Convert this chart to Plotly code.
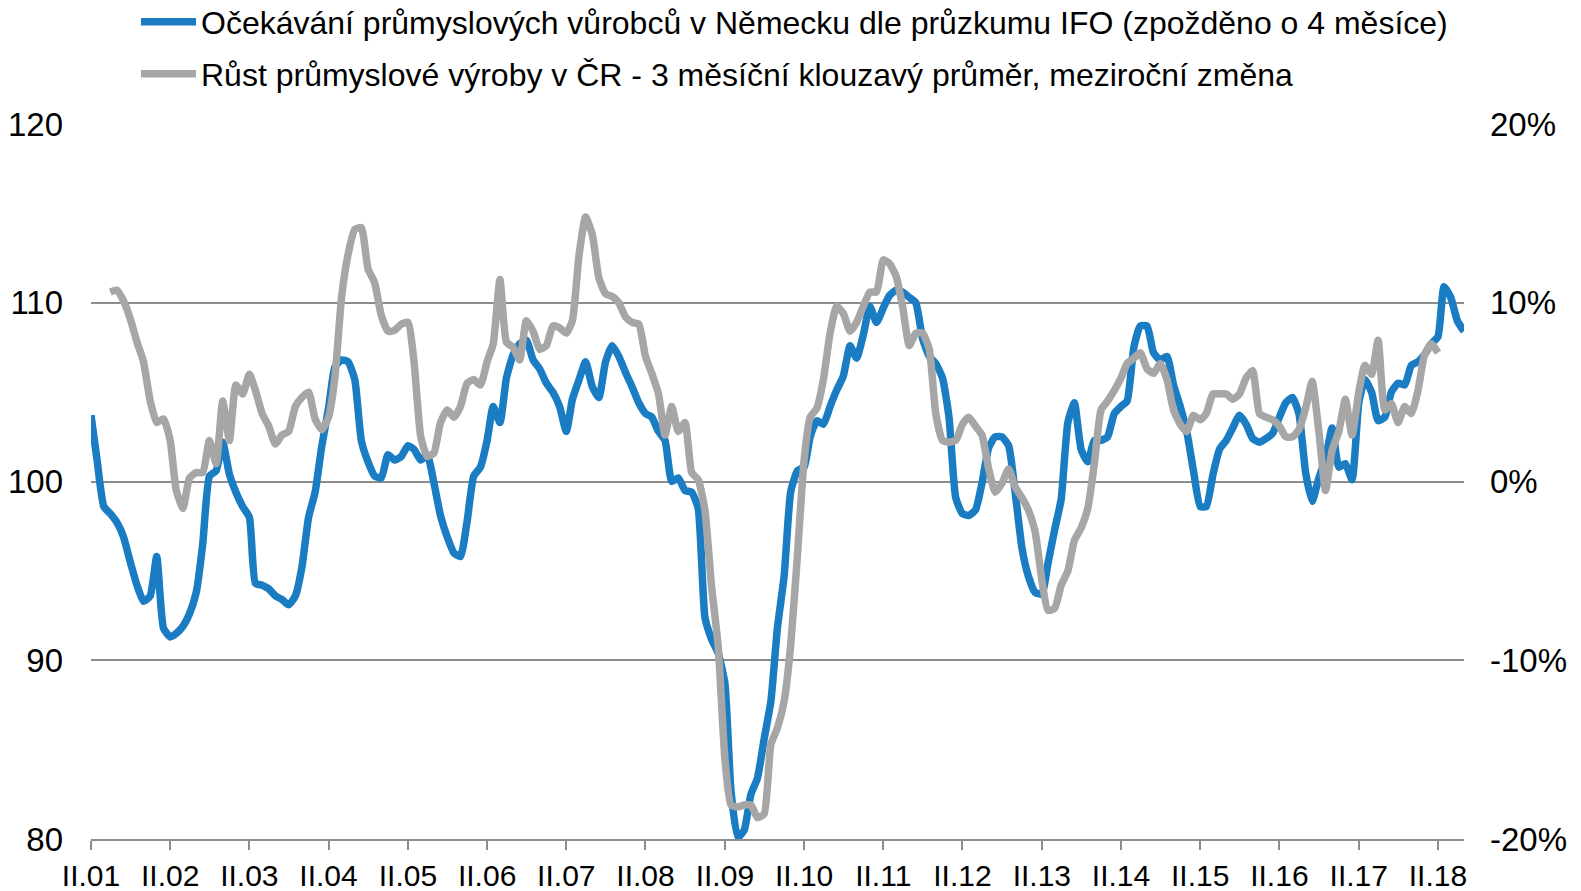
import pandas as pd
import plotly.graph_objects as go

# ---------------- data ----------------
ifo_start = "2001-02-01"
ifo_values = [
    103.7, 101.2, 98.6, 98.2, 97.7, 96.9, 95.5, 94.2, 93.3, 93.6,
    95.8, 91.8, 91.3, 91.5, 91.9, 92.6, 93.8, 96.5, 100.3, 100.6,
    102.2, 100.4, 99.4, 98.6, 98.0, 94.3, 94.2, 94.0, 93.6, 93.4,
    93.1, 93.6, 95.2, 98.0, 99.4, 102.0, 104.1, 106.4, 106.8, 106.7,
    105.7, 102.3, 101.1, 100.3, 100.2, 101.5, 101.2, 101.4, 102.0, 101.8,
    101.2, 101.5, 99.9, 98.1, 96.9, 96.0, 95.8, 97.8, 100.3, 100.8,
    102.3, 104.2, 103.3, 105.8, 107.1, 107.7, 107.9, 106.8, 106.3, 105.5,
    105.0, 104.2, 102.8, 104.6, 105.7, 106.7, 105.3, 104.7, 106.7, 107.6,
    107.0, 106.1, 105.3, 104.4, 103.8, 103.6, 102.8, 102.3, 100.0, 100.2,
    99.5, 99.4, 98.5, 92.4, 91.2, 90.4, 88.7, 82.7, 80.1, 80.5,
    82.5, 83.4, 85.6, 87.7, 91.8, 94.7, 99.4, 100.6, 100.8, 102.5,
    103.4, 103.2, 104.2, 105.1, 105.9, 107.6, 106.9, 108.2, 109.8, 108.9,
    109.7, 110.4, 110.7, 110.6, 110.3, 110.0, 108.0, 107.0, 106.6, 105.8,
    103.6, 99.1, 98.2, 98.1, 98.4, 99.9, 101.9, 102.5, 102.5, 102.0,
    99.4, 96.3, 94.7, 93.8, 93.7, 95.4, 97.3, 99.0, 103.3, 104.4,
    101.8, 101.1, 102.3, 102.3, 102.5, 103.8, 104.2, 104.5, 107.5, 108.7,
    108.7, 107.2, 106.8, 107.0, 105.4, 104.2, 102.8, 100.6, 98.6, 98.6,
    100.4, 101.8, 102.3, 103.0, 103.7, 103.2, 102.4, 102.2, 102.4, 102.7,
    103.6, 104.4, 104.7, 103.8, 100.5, 98.9, 100.2, 101.3, 103.0, 100.8,
    101.0, 100.1, 104.4, 105.7, 105.0, 103.4, 103.6, 105.0, 105.5, 105.4,
    106.5, 106.7, 107.1, 107.7, 108.1, 110.9, 110.3, 109.0, 108.4,
]

cz_start = "2001-05-01"
cz_growth_pct = [
    10.6, 10.7, 10.1, 9.1, 7.8, 6.7, 4.5, 3.3, 3.5, 2.3,
    -0.5, -1.5, 0.2, 0.5, 0.5, 2.3, 1.0, 4.5, 2.3, 5.4,
    4.9, 6.0, 5.1, 3.8, 3.1, 2.1, 2.6, 2.8, 4.2, 4.7,
    5.0, 3.5, 2.9, 3.6, 5.8, 10.3, 12.7, 14.1, 14.2, 11.9,
    11.1, 9.3, 8.4, 8.45, 8.8, 8.9, 6.7, 2.5, 1.4, 1.6,
    3.3, 4.0, 3.6, 4.2, 5.5, 5.7, 5.4, 6.7, 7.7, 11.3,
    7.8, 7.5, 6.8, 9.0, 8.4, 7.4, 7.6, 8.7, 8.6, 8.3,
    9.0, 12.7, 14.8, 13.8, 11.4, 10.5, 10.35, 10.0, 9.2, 8.9,
    8.8, 7.0, 6.05, 4.9, 2.6, 4.2, 2.8, 3.3, 0.5, 0.1,
    -1.6, -5.8, -9.2, -15.5, -18.1, -18.2, -18.1, -18.1, -18.8, -18.6,
    -14.7, -13.8, -12.3, -9.2, -4.2, 1.2, 3.6, 4.1, 5.7, 8.3,
    9.8, 9.4, 8.4, 8.9, 9.8, 10.6, 10.6, 12.4, 12.2, 11.5,
    9.8, 7.6, 8.3, 8.3, 7.4, 3.8, 2.3, 2.2, 2.3, 3.2,
    3.6, 3.1, 2.6, 0.7, -0.6, -0.1, 0.7, -0.3, -0.9, -1.6,
    -2.8, -5.5, -7.2, -7.1, -5.8, -5.0, -3.3, -2.6, -1.5, 1.0,
    4.0, 4.5, 5.1, 5.8, 6.6, 6.9, 7.2, 6.3, 6.05, 6.6,
    5.7, 4.0, 3.2, 2.8, 3.7, 3.45, 3.8, 4.9, 4.9, 4.9,
    4.6, 4.9, 5.8, 6.2, 3.8, 3.6, 3.45, 3.1, 2.5, 2.5,
    2.9, 4.1, 5.6, 2.8, -0.5, 1.75, 2.8, 4.6, 2.6, 5.0,
    6.5, 6.0, 7.9, 4.0, 4.35, 3.3, 4.2, 3.8, 5.1, 7.1,
    7.7, 7.2,
]

tick_years = list(range(2001, 2019))
tick_labels = ["II.%02d" % (y % 100) for y in tick_years]

left_ticks = [80, 90, 100, 110, 120]
left_labels = ["80", "90", "100", "110", "120"]
right_ticks = [-20, -10, 0, 10, 20]
right_labels = ["-20%", "-10%", "0%", "10%", "20%"]

name_ifo = "Očekávání průmyslových vůrobců v Německu dle průzkumu IFO (zpožděno o 4 měsíce)"
name_cz = "Růst průmyslové výroby v ČR - 3 měsíční klouzavý průměr, meziroční změna"

# ---------------- figure ----------------
ifo_dates = pd.date_range(ifo_start, periods=len(ifo_values), freq="MS")
cz_dates = pd.date_range(cz_start, periods=len(cz_growth_pct), freq="MS")
tick_vals = [pd.Timestamp(year=y, month=2, day=1) for y in tick_years]

BLUE = "#1A7DC4"
GRAY = "#A6A6A6"
GRID = "#8C8C8C"
FONT = "Liberation Sans, Arial, sans-serif"

fig = go.Figure()
fig.add_trace(go.Scatter(
    x=ifo_dates, y=ifo_values, name=name_ifo, mode="lines",
    line=dict(color=BLUE, width=7.5, shape="spline", smoothing=0.5),
    yaxis="y", legend="legend",
))
fig.add_trace(go.Scatter(
    x=cz_dates, y=cz_growth_pct, name=name_cz, mode="lines",
    line=dict(color=GRAY, width=7.5, shape="spline", smoothing=0.5),
    yaxis="y2", legend="legend2",
))

legend_common = dict(
    xref="container", yref="container", xanchor="left", yanchor="middle",
    font=dict(family=FONT, size=32, color="#000000"),
    bgcolor="rgba(0,0,0,0)", borderwidth=0, itemwidth=55,
)

fig.update_layout(
    width=1581, height=891,
    margin=dict(l=91, r=117, t=124, b=52, autoexpand=False),
    paper_bgcolor="white", plot_bgcolor="white",
    font=dict(family=FONT, size=31, color="#000000"),
    showlegend=True,
    legend=dict(x=136 / 1581, y=1 - 22 / 891, **legend_common),
    legend2=dict(x=136 / 1581, y=1 - 74 / 891, **legend_common),
    xaxis=dict(
        type="date",
        range=[ifo_dates[0], ifo_dates[-1]],
        tickvals=tick_vals, ticktext=tick_labels,
        showgrid=False, zeroline=False,
        showline=True, linecolor=GRID, linewidth=1.5,
        ticks="outside", ticklen=9, tickwidth=1.5, tickcolor=GRID,
        tickfont=dict(size=30),
    ),
    yaxis=dict(
        range=[80, 120], tickvals=left_ticks, ticktext=left_labels,
        showgrid=True, gridcolor=GRID, gridwidth=1.5,
        zeroline=False, showline=False, ticks="",
        tickfont=dict(size=33), ticklabelstandoff=27,
    ),
    yaxis2=dict(
        range=[-20, 20], tickvals=right_ticks, ticktext=right_labels,
        overlaying="y", side="right",
        showgrid=False, zeroline=False, showline=False, ticks="",
        tickfont=dict(size=33), ticklabelstandoff=25,
    ),
)

fig.write_html(
    "out.html",
    config={"displayModeBar": False},
    post_script="document.body.style.margin='0';document.body.style.padding='0';"
                "document.documentElement.style.overflow='hidden';",
)
